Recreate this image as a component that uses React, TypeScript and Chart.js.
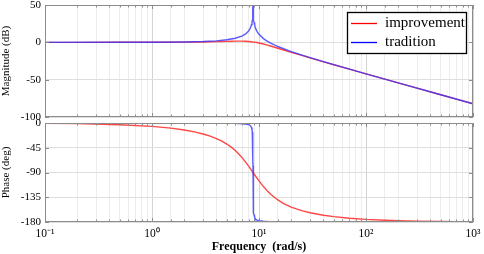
import React, { useEffect, useRef } from 'react';
import { Chart, registerables } from 'chart.js';

Chart.register(...registerables);

// ---- data ----
const seriesNames = ['improvement', 'tradition'];
const seriesColors = ['rgba(255,50,50,0.9)', 'rgba(50,50,255,0.8)'];
const legendColors = ['#ff0000', '#0000ff'];

const freqImprovement = [0.1, 0.2, 0.5, 1, 1.5, 2, 2.5, 3, 3.5, 4, 4.5, 5, 5.5, 6, 6.5, 7, 7.5, 8, 8.5, 9, 9.5, 10, 11, 12, 13, 15, 17, 20, 25, 30, 40, 50, 70, 100, 150, 200, 300, 500, 700, 1000];
const magImprovement = [0, 0, 0.02, 0.06, 0.14, 0.25, 0.38, 0.54, 0.71, 0.9, 1.1, 1.29, 1.45, 1.57, 1.62, 1.59, 1.45, 1.19, 0.82, 0.33, -0.24, -0.89, -2.3, -3.77, -5.22, -7.92, -10.32, -13.41, -17.57, -20.9, -26.07, -30.03, -35.95, -42.18, -49.25, -54.25, -61.3, -70.18, -76.02, -82.22];
const phaseImprovement = [-0.61, -1.22, -3.07, -6.17, -9.37, -12.7, -16.2, -19.93, -23.95, -28.31, -33.06, -38.26, -43.96, -50.14, -56.8, -63.84, -71.15, -78.52, -85.78, -92.74, -99.26, -105.25, -115.58, -123.84, -130.41, -139.94, -146.39, -152.85, -159.31, -163.21, -167.74, -170.31, -173.15, -175.23, -176.83, -177.63, -178.42, -179.05, -179.32, -179.53];

const freqTradition = [0.1, 0.5, 1, 2, 3, 4, 5, 6, 7, 7.5, 8, 8.2, 8.4, 8.5, 8.6, 8.65, 8.7, 8.73, 8.76, 8.78, 8.79, 8.8, 8.81, 8.82, 8.84, 8.87, 8.9, 8.95, 9, 9.1, 9.2, 9.4, 9.6, 10, 11, 12, 13, 15, 20, 30, 50, 100, 200, 500, 1000];
const magTradition = [0, 0.03, 0.11, 0.46, 1.07, 2.01, 3.39, 5.43, 8.7, 11.26, 15.21, 17.61, 21.03, 23.48, 26.95, 29.42, 32.92, 36.0, 40.85, 46.86, 52.9, 70, 52.9, 46.84, 40.8, 35.93, 32.82, 29.27, 26.75, 23.18, 20.63, 17.02, 14.42, 10.71, 5.0, 1.31, -1.45, -5.6, -12.39, -20.52, -29.91, -42.17, -54.25, -70.18, -82.22];
const phaseTradition = [0, -0.03, -0.07, -0.14, -0.22, -0.33, -0.48, -0.73, -1.24, -1.78, -3.0, -4.05, -6.1, -8.2, -12.3, -16.2, -23.6, -32.1, -47.7, -65.5, -77.2, -90, -102.8, -114.4, -132.2, -147.7, -156.1, -163.5, -167.5, -171.5, -173.6, -175.7, -176.7, -177.8, -178.7, -179.1, -179.3, -179.5, -179.7, -179.8, -179.9, -179.95, -180, -180, -180];

const freqRange = [0.1, 1000];
const magRange = [-100, 50];
const magStep = 50;
const phaseRange = [-180, 0];
const phaseStep = 45;
const decadeLabels: Record<number, string> = { [-1]: '10⁻¹', 0: '10⁰', 1: '10¹', 2: '10²', 3: '10³' };

const SERIF = '"Liberation Serif", "Times New Roman", serif';

const isDecade = (v: number) => {
  const l = Math.log10(v);
  return Math.abs(l - Math.round(l)) < 1e-6;
};

const boxPlugin = {
  id: 'boxTicks',
  afterDatasetsDraw(chart: any) {
    const { ctx, chartArea, scales } = chart;
    const { left, right, top, bottom } = chartArea;
    ctx.save();
    ctx.strokeStyle = '#8c8c8c';
    ctx.lineWidth = 1;
    ctx.beginPath();
    scales.x.ticks.forEach((t: any) => {
      const px = Math.round(scales.x.getPixelForValue(t.value)) + 0.5;
      const len = isDecade(t.value) ? 4 : 2.5;
      ctx.moveTo(px, top);
      ctx.lineTo(px, top + len);
      ctx.moveTo(px, bottom);
      ctx.lineTo(px, bottom - len);
    });
    scales.y.ticks.forEach((t: any) => {
      const py = Math.round(scales.y.getPixelForValue(t.value)) + 0.5;
      ctx.moveTo(left, py);
      ctx.lineTo(left + 4, py);
      ctx.moveTo(right, py);
      ctx.lineTo(right - 4, py);
    });
    ctx.stroke();
    ctx.strokeRect(Math.round(left) + 0.5, Math.round(top) + 0.5, Math.round(right - left) - 1, Math.round(bottom - top) - 1);
    ctx.restore();
  },
};

const legendPlugin = {
  id: 'boxLegend',
  afterDraw(chart: any) {
    const { ctx, chartArea } = chart;
    const w = 119;
    const h = 41;
    const x0 = Math.round(chartArea.right) - 7 - w;
    const y0 = Math.round(chartArea.top) + 7;
    ctx.save();
    ctx.fillStyle = '#ffffff';
    ctx.fillRect(x0, y0, w, h);
    ctx.strokeStyle = '#000000';
    ctx.lineWidth = 1.3;
    ctx.strokeRect(x0 + 0.5, y0 + 0.5, w, h);
    ctx.font = `15px ${SERIF}`;
    ctx.textBaseline = 'middle';
    ctx.textAlign = 'left';
    seriesNames.forEach((name, i) => {
      const y = y0 + 11 + i * 19;
      ctx.strokeStyle = legendColors[i];
      ctx.lineWidth = 1.3;
      ctx.beginPath();
      ctx.moveTo(x0 + 4, y + 0.5);
      ctx.lineTo(x0 + 30, y + 0.5);
      ctx.stroke();
      ctx.fillStyle = '#000000';
      ctx.fillText(name, x0 + 38, y);
    });
    ctx.restore();
  },
};

function makeXScale(showLabels: boolean) {
  return {
    type: 'logarithmic',
    min: freqRange[0],
    max: freqRange[1],
    border: { display: false },
    grid: {
      drawTicks: false,
      color: (c: any) => (c.tick && isDecade(c.tick.value) ? '#d4d4d4' : '#ececec'),
      lineWidth: 1,
    },
    ticks: {
      display: showLabels,
      autoSkip: false,
      maxRotation: 0,
      padding: 5,
      color: '#000',
      font: { family: SERIF, size: 11.5 },
      callback: (v: any) => {
        const n = Number(v);
        if (isDecade(n)) return decadeLabels[Math.round(Math.log10(n))] ?? '';
        return '';
      },
    },
    title: showLabels
      ? {
          display: true,
          text: 'Frequency  (rad/s)',
          color: '#000',
          font: { family: SERIF, size: 12, weight: 'bold' },
          padding: { top: 0, bottom: 0 },
        }
      : { display: false },
    afterFit: (s: any) => {
      s.height = showLabels ? 32 : 0;
      s.paddingLeft = 0;
      s.paddingRight = 0;
    },
  };
}

function makeYScale(range: number[], step: number, title: string) {
  return {
    type: 'linear',
    min: range[0],
    max: range[1],
    border: { display: false },
    grid: { drawTicks: false, color: '#dedede', lineWidth: 1 },
    ticks: {
      stepSize: step,
      padding: 4,
      color: '#000',
      font: { family: SERIF, size: 11 },
    },
    title: {
      display: true,
      text: title,
      color: '#000',
      font: { family: SERIF, size: 11 },
      padding: { top: 0, bottom: 0 },
    },
    afterFit: (s: any) => {
      s.width = 45;
      s.paddingTop = 0;
      s.paddingBottom = 0;
    },
  };
}

function buildDatasets(magOrPhase: 'mag' | 'phase') {
  const imp = magOrPhase === 'mag' ? magImprovement : phaseImprovement;
  const tra = magOrPhase === 'mag' ? magTradition : phaseTradition;
  return [
    {
      label: seriesNames[0],
      data: freqImprovement.map((f, i) => ({ x: f, y: imp[i] })),
      borderColor: seriesColors[0],
      borderWidth: 1.4,
      pointRadius: 0,
      tension: 0,
      order: 1,
    },
    {
      label: seriesNames[1],
      data: freqTradition.map((f, i) => ({ x: f, y: tra[i] })),
      borderColor: seriesColors[1],
      borderWidth: 1.4,
      pointRadius: 0,
      tension: 0,
      order: 0,
    },
  ];
}

function BodePanel(props: {
  kind: 'mag' | 'phase';
  top: number;
  height: number;
  padding: any;
}) {
  const ref = useRef<HTMLCanvasElement | null>(null);
  useEffect(() => {
    if (!ref.current) return;
    const isMag = props.kind === 'mag';
    const chart = new Chart(ref.current, {
      type: 'line',
      data: { datasets: buildDatasets(props.kind) as any },
      options: {
        animation: false,
        responsive: false,
        maintainAspectRatio: false,
        parsing: false as any,
        layout: { padding: props.padding },
        plugins: { legend: { display: false }, tooltip: { enabled: false } },
        scales: {
          x: makeXScale(!isMag) as any,
          y: (isMag
            ? makeYScale(magRange, magStep, 'Magnitude (dB)')
            : makeYScale(phaseRange, phaseStep, 'Phase (deg)')) as any,
        },
      },
      plugins: isMag ? [boxPlugin, legendPlugin] : [boxPlugin],
    });
    return () => chart.destroy();
  }, []);
  return (
    <canvas
      ref={ref}
      width={484}
      height={props.height}
      style={{ position: 'absolute', left: 0, top: props.top, width: 484, height: props.height }}
    />
  );
}

export default function App() {
  return (
    <div style={{ position: 'absolute', left: 0, top: 0, width: 484, height: 254, background: '#fff' }}>
      <BodePanel kind="mag" top={0} height={124} padding={{ top: 5, right: 11, bottom: 7, left: 0 }} />
      <BodePanel kind="phase" top={112} height={142} padding={{ top: 11, right: 11, bottom: 0, left: 0 }} />
    </div>
  );
}
